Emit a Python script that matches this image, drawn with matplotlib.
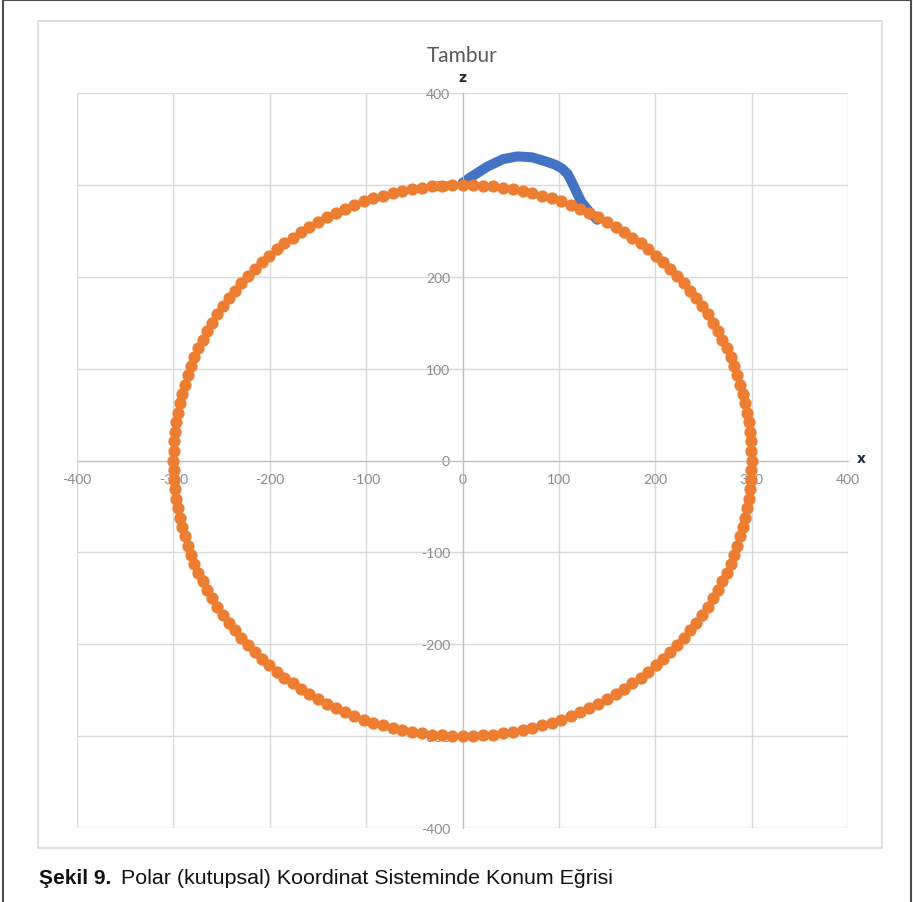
import numpy as np
import matplotlib
matplotlib.use('Agg')
import matplotlib.pyplot as plt
from matplotlib.patches import Rectangle
from matplotlib.lines import Line2D

plt.rcParams['axes.unicode_minus'] = False

# drum profile (blue curve), x / z in mm
profile_x = [0, 8, 26, 42, 57, 72, 85, 96, 103, 109, 113, 118, 123, 129, 134, 140]
profile_z = [302, 308, 320, 328, 331, 330, 326, 322, 318, 312, 304, 293, 282, 274, 268, 262]

# reference circle sampled in polar form
circle_theta_deg = np.arange(0, 360, 2)
circle_r = 300

ticks = [-400, -300, -200, -100, 0, 100, 200, 300, 400]

title = "Tambur"
caption_bold = "Şekil 9."
caption_text = "Polar (kutupsal) Koordinat Sisteminde Konum Eğrisi"

BLUE = '#4472C4'
ORANGE = '#ED7D31'
GRID = '#D9D9D9'
LABEL = '#8A8A8A'


def main():
    fig = plt.figure(figsize=(9.13, 9.03), dpi=100)
    W, H = 913, 903

    def fx(px):
        return px / W

    def fy(py):
        return 1 - py / H

    ax = fig.add_axes([fx(77), fy(829), fx(848) - fx(77), fy(94) - fy(829)])
    ax.set_xlim(-400, 400)
    ax.set_ylim(-400, 400)
    ax.set_xticks(ticks)
    ax.set_yticks(ticks)
    ax.grid(True, color=GRID, lw=1)
    ax.set_axisbelow(True)

    for side in ['top', 'right']:
        ax.spines[side].set_visible(False)
    ax.spines['left'].set_position(('data', 0))
    ax.spines['bottom'].set_position(('data', 0))
    ax.spines['left'].set_color('#BFBFBF')
    ax.spines['bottom'].set_color('#BFBFBF')
    ax.tick_params(length=0, labelcolor=LABEL, labelsize=10)
    ax.tick_params(axis='x', pad=9)
    ax.tick_params(axis='y', pad=9)
    for lab in ax.get_xticklabels() + ax.get_yticklabels():
        lab.set_family('Lato')

    th = np.radians(circle_theta_deg)
    cx = circle_r * np.sin(th)
    cz = circle_r * np.cos(th)

    ax.plot(profile_x, profile_z, color=BLUE, lw=7.2, solid_capstyle='round',
            solid_joinstyle='round', zorder=2)
    ax.plot(cx, cz, 'o', color=ORANGE, ms=7.8, mec=ORANGE, zorder=3, clip_on=False)

    # axis titles
    fig.text(fx(462), fy(78), 'z', ha='center', va='center', fontsize=10,
             fontweight='bold', color='#1F2A44', family='DejaVu Sans')
    fig.text(fx(861), fy(459), 'x', ha='center', va='center', fontsize=10,
             fontweight='bold', color='#1F2A44', family='DejaVu Sans')
    fig.text(fx(462), fy(56), title, ha='center', va='center', fontsize=15,
             color='#595959', family='Lato')

    # chart area border and page frame
    fig.patches.append(Rectangle((fx(38), fy(849)), fx(882) - fx(38), fy(22) - fy(849),
                                 transform=fig.transFigure, fill=False,
                                 edgecolor=GRID, lw=1.2))
    frame = dict(transform=fig.transFigure, color='#4D4D4D', lw=1.5)
    fig.lines.append(Line2D([fx(3), fx(3)], [0, fy(1)], **frame))
    fig.lines.append(Line2D([fx(911), fx(911)], [0, fy(1)], **frame))
    fig.lines.append(Line2D([fx(3), fx(911)], [fy(1), fy(1)], **frame))

    cap_font = ['Liberation Sans Narrow', 'Liberation Sans', 'DejaVu Sans']
    t = fig.text(fx(39), fy(879), caption_bold, ha='left', va='center', fontsize=15,
                 fontweight='bold', family=cap_font, color='#111111')
    fig.canvas.draw()
    bb = t.get_window_extent()
    fig.text(bb.x1 / W + fx(10), fy(879), caption_text, ha='left', va='center',
             fontsize=15.4, family=cap_font, color='#111111')

    fig.savefig('out.png', dpi=100)


if __name__ == "__main__":
    main()
